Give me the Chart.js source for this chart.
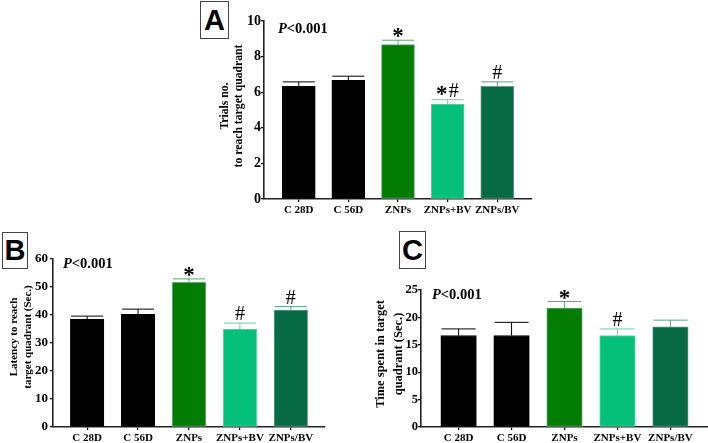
<!DOCTYPE html>
<html><head><meta charset="utf-8">
<style>
html,body{margin:0;padding:0;background:#fff;width:708px;height:443px;overflow:hidden}
canvas{position:absolute}
.box{position:absolute;box-sizing:border-box;border:1px solid #444;font:bold 29px "Liberation Sans";display:flex;align-items:center;justify-content:center;color:#000;background:#fff}
</style>
<script src="https://cdn.jsdelivr.net/npm/chart.js@4"></script>
</head><body>
<div class="box" style="left:200px;top:1px;width:29px;height:38px">A</div>
<div class="box" style="left:2px;top:232px;width:26px;height:37px">B</div>
<div class="box" style="left:399px;top:231px;width:27px;height:38px">C</div>
<canvas id="a" style="left:190px;top:0"></canvas>
<canvas id="b" style="left:0;top:245px"></canvas>
<canvas id="c" style="left:358px;top:275px"></canvas>
<script>
const categories = ['C 28D','C 56D','ZNPs','ZNPs+BV','ZNPs/BV'];
const fills = ['#000000','#000000','#027c02','#05c07b','#066a45'];
const edges = ['#000000','#000000','#5fa86f','#62d4a8','#5d9d85'];

const valuesA = [6.33,6.67,8.67,5.33,6.33];
const errorsA = [0.25,0.23,0.25,0.25,0.25];
const marksA  = ['', '', '*', '*#', '#'];
const ticksA  = [0,2,4,6,8,10];
const titleA  = ['Trials no.','to reach target quadrant'];

const valuesB = [38.5,40.2,51.7,35,41.8];
const errorsB = [1.1,1.9,1.2,2.1,1.2];
const marksB  = ['', '', '*', '#', '#'];
const ticksB  = [0,10,20,30,40,50,60];
const titleB  = ['Latency to reach','target quadrant (Sec.)'];

const valuesC = [16.7,16.7,21.7,16.7,18.3];
const errorsC = [1.2,2.4,1.2,1.2,1.2];
const marksC  = ['', '', '*', '#', ''];
const ticksC  = [0,5,10,15,20,25];
const titleC  = ['Time spent in target','quadrant (Sec.)'];

const serif = '"Liberation Serif"';

function panel(id, o){
  const cv = document.getElementById(id);
  cv.style.width = o.w + 'px'; cv.style.height = o.h + 'px';
  const overlay = {
    id:'overlay',
    afterDatasetsDraw(ch){
      const {ctx, scales:{x,y}} = ch;
      ctx.save();
      o.values.forEach((v,i)=>{
        const px = x.getPixelForValue(i), top = y.getPixelForValue(v+o.errors[i]), base = y.getPixelForValue(v);
        ctx.strokeStyle = edges[i]; ctx.lineWidth = 1;
        ctx.beginPath();
        ctx.moveTo(px, base); ctx.lineTo(px, top);
        ctx.moveTo(px-o.cap, top); ctx.lineTo(px+o.cap, top);
        ctx.stroke();
        const m = o.marks[i];
        if(m){
          ctx.fillStyle = '#000'; ctx.textAlign = 'center'; ctx.textBaseline = 'alphabetic';
          const ty = top-3;
          if(m==='*'){
            ctx.font = 'bold 23px '+serif;
            ctx.fillText('*', px, ty+6);
          } else if(m==='*#'){
            ctx.font = 'bold 23px '+serif;
            ctx.fillText('*', px-6, ty+4);
            ctx.font = '20px '+serif;
            ctx.fillText('#', px+6, ty);
          } else {
            ctx.font = '20px '+serif;
            ctx.fillText('#', px, ty);
          }
        }
      });
      ctx.textAlign='left'; ctx.textBaseline='alphabetic'; ctx.fillStyle='#000';
      ctx.font='italic bold 14.5px '+serif;
      const lx = x.left+o.pOff, ly = y.top+o.pTop;
      ctx.fillText('P', lx, ly);
      const w = ctx.measureText('P').width;
      ctx.font='bold 14.5px '+serif;
      ctx.fillText('<0.001', lx+w, ly);
      ctx.font='bold '+o.tfont+'px '+serif;
      ctx.textAlign='center'; ctx.textBaseline='middle';
      o.title.forEach((line,k)=>{
        ctx.save();
        ctx.translate(o.tx+k*o.tgap, o.tcy);
        ctx.rotate(-Math.PI/2);
        ctx.fillText(line,0,0);
        ctx.restore();
      });
      ctx.restore();
    }
  };
  new Chart(cv,{
    type:'bar',
    data:{datasets:[{
      data:o.values.map((v,i)=>({x:i,y:v})),
      backgroundColor:fills,borderColor:edges,borderWidth:1,
      barThickness:o.bar,borderSkipped:false
    }]},
    options:{
      responsive:false,animation:false,devicePixelRatio:1,
      layout:{padding:{top:o.top,right:o.right,left:0,bottom:0}},
      plugins:{legend:{display:false},tooltip:{enabled:false}},
      scales:{
        x:{type:'linear',offset:false,min:-o.off,max:4+o.off,
          afterBuildTicks(s){s.ticks=categories.map((_,i)=>({value:i}));},
          afterFit(s){s.height=o.bottom;},
          ticks:{autoSkip:false,maxRotation:0,minRotation:0,padding:2,color:'#000',
            font:{family:serif,weight:'bold',size:o.xfont},
            callback:v=>categories[v]},
          grid:{offset:false,drawOnChartArea:false,color:'#000',tickLength:3,lineWidth:1.2},
          border:{color:'#222',width:1.6}},
        y:{type:'linear',min:0,max:o.ticks[o.ticks.length-1],
          afterBuildTicks(s){s.ticks=o.ticks.map(value=>({value}));},
          afterFit(s){s.width=o.left;},
          ticks:{padding:o.ypad,color:'#000',font:{family:serif,weight:'bold',size:o.yfont}},
          grid:{drawOnChartArea:false,color:'#000',tickLength:3,lineWidth:1.2},
          border:{color:'#222',width:1.6}}
      }
    },
    plugins:[overlay]
  });
}

panel('a',{w:345,h:225,top:21,right:3,left:74,bottom:26,bar:33,cap:16,off:0.7,yfont:14,ypad:0,
  values:valuesA,errors:errorsA,marks:marksA,ticks:ticksA,
  title:titleA,tfont:11.7,xfont:11,pOff:14,pTop:12,tx:35,tgap:14,tcy:106});
panel('b',{w:330,h:198,top:14,right:5,left:53,bottom:16,bar:33.5,cap:16,off:0.67,yfont:13,ypad:2,
  values:valuesB,errors:errorsB,marks:marksB,ticks:ticksB,
  title:titleB,tfont:11,xfont:11,pOff:10,pTop:9,tx:14,tgap:14,tcy:92});
panel('c',{w:350,h:168,top:15,right:0,left:63,bottom:16,bar:35.5,cap:17,off:0.71,yfont:12.5,ypad:0,
  values:valuesC,errors:errorsC,marks:marksC,ticks:ticksC,
  title:titleC,tfont:12.5,xfont:11,pOff:11,pTop:9,tx:23,tgap:18,tcy:79});
</script>
</body></html>
